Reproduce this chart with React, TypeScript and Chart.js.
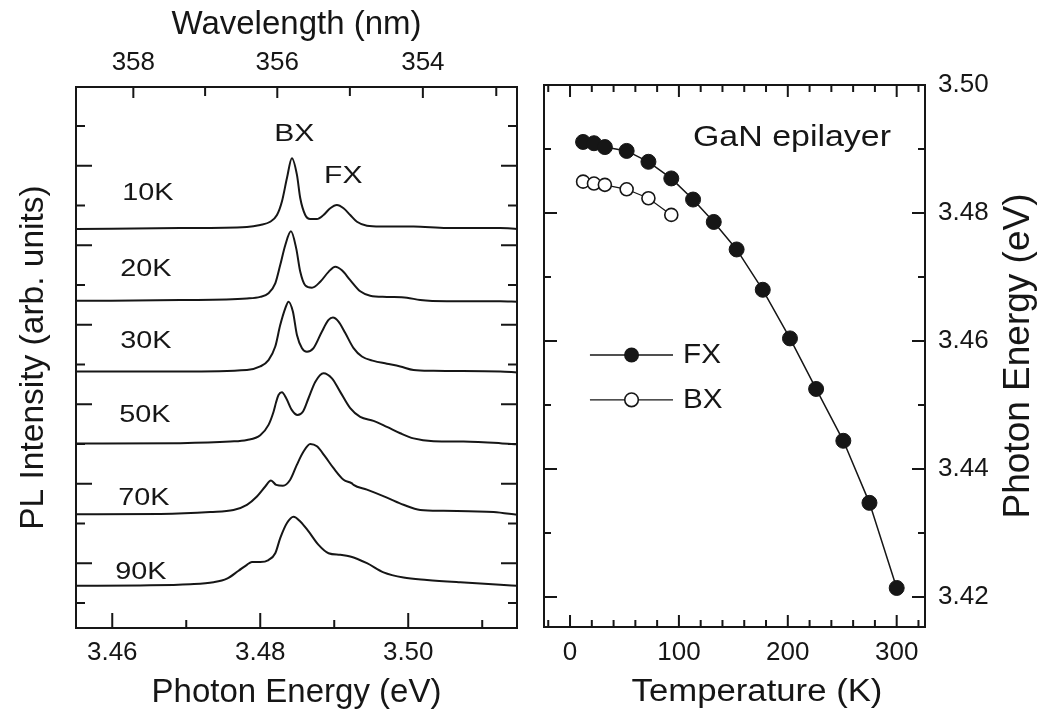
import React, { useEffect, useRef } from "react";
import { Chart, registerables } from "chart.js";

Chart.register(...registerables);

const FONT = '"Liberation Sans", Arial, Helvetica, sans-serif';
const INK = "#161616";
Chart.defaults.font.family = FONT;
Chart.defaults.color = INK;

// ---------------- Left panel: temperature-dependent PL spectra ----------------
const SPECTRUM_LABELS = ["10K", "20K", "30K", "50K", "70K", "90K"];
// vertical offset of each trace (arb. units)
const SPECTRUM_OFFSETS = [9.41, 7.6, 5.82, 4.01, 2.23, 0.43];

const E_10K = [3.4551, 3.4692, 3.4782, 3.48, 3.48135, 3.48226, 3.48293, 3.48361, 3.48428, 3.48496, 3.48541, 3.48608, 3.48676, 3.48766, 3.48855, 3.48946, 3.49036, 3.49126, 3.49216, 3.49307, 3.49442, 3.49622, 3.50072, 3.50523, 3.51243, 3.5147];
const I_10K = [0.0, 0.02, 0.05, 0.1, 0.18, 0.35, 0.69, 1.28, 1.78, 1.36, 0.77, 0.35, 0.25, 0.25, 0.35, 0.52, 0.6, 0.52, 0.35, 0.18, 0.08, 0.06, 0.06, 0.02, 0.02, 0.0];

const E_20K = [3.4551, 3.4692, 3.4782, 3.48, 3.48112, 3.48203, 3.4827, 3.48338, 3.48415, 3.48486, 3.48541, 3.48608, 3.48699, 3.48811, 3.48923, 3.49014, 3.49104, 3.49216, 3.49351, 3.49486, 3.49712, 3.49982, 3.50162, 3.50523, 3.51243, 3.5147];
const I_20K = [0.0, 0.02, 0.06, 0.1, 0.19, 0.44, 0.9, 1.4, 1.75, 1.32, 0.73, 0.39, 0.33, 0.48, 0.73, 0.86, 0.77, 0.52, 0.24, 0.13, 0.1, 0.08, 0.02, -0.01, -0.01, -0.02];

const E_30K = [3.4551, 3.4692, 3.4782, 3.48, 3.48112, 3.48203, 3.4827, 3.48338, 3.48382, 3.48441, 3.48496, 3.48564, 3.48631, 3.4872, 3.48834, 3.48923, 3.48982, 3.49058, 3.49149, 3.49261, 3.49374, 3.49531, 3.49712, 3.49892, 3.50072, 3.50342, 3.51243, 3.5147];
const I_30K = [0.0, 0.0, 0.04, 0.13, 0.29, 0.63, 1.17, 1.59, 1.76, 1.51, 0.92, 0.59, 0.5, 0.59, 1.01, 1.3, 1.36, 1.26, 0.97, 0.59, 0.38, 0.27, 0.2, 0.13, 0.04, 0.02, 0.0, -0.02];

const E_50K = [3.4551, 3.4692, 3.47595, 3.4782, 3.48, 3.48112, 3.4818, 3.48216, 3.48247, 3.48293, 3.48351, 3.48428, 3.48503, 3.48576, 3.48652, 3.48743, 3.48855, 3.48969, 3.49081, 3.49216, 3.49351, 3.49531, 3.49712, 3.49892, 3.50072, 3.50342, 3.50747, 3.51243, 3.5147];
const I_50K = [0.0, 0.01, 0.05, 0.09, 0.21, 0.47, 0.8, 1.05, 1.22, 1.29, 1.14, 0.84, 0.72, 0.8, 1.14, 1.55, 1.77, 1.64, 1.3, 0.89, 0.67, 0.57, 0.42, 0.26, 0.13, 0.06, 0.05, 0.01, -0.02];

const E_70K = [3.4551, 3.46649, 3.47324, 3.47639, 3.4782, 3.47955, 3.48068, 3.48145, 3.48216, 3.48307, 3.48405, 3.48496, 3.48585, 3.48676, 3.48766, 3.48878, 3.48991, 3.49126, 3.49239, 3.49261, 3.49442, 3.49712, 3.49936, 3.50162, 3.50477, 3.51153, 3.5147];
const I_70K = [0.0, 0.01, 0.06, 0.11, 0.24, 0.45, 0.7, 0.85, 0.74, 0.72, 0.87, 1.25, 1.58, 1.77, 1.71, 1.45, 1.16, 0.87, 0.78, 0.74, 0.62, 0.42, 0.24, 0.11, 0.09, 0.06, -0.01];

const E_90K = [3.4551, 3.46378, 3.47054, 3.47369, 3.4755, 3.47707, 3.4782, 3.47888, 3.48, 3.48112, 3.48203, 3.4827, 3.48361, 3.4845, 3.48541, 3.48653, 3.48788, 3.48923, 3.49081, 3.49216, 3.49442, 3.49666, 3.49936, 3.50253, 3.50703, 3.51243, 3.5147];
const I_90K = [0.0, 0.01, 0.04, 0.09, 0.18, 0.38, 0.53, 0.6, 0.6, 0.65, 0.82, 1.2, 1.58, 1.74, 1.62, 1.37, 1.03, 0.82, 0.78, 0.74, 0.57, 0.34, 0.21, 0.15, 0.09, 0.03, 0.0];

const ENERGY_MIN = 3.4551;
const ENERGY_MAX = 3.5147;
const ENERGY_TICKS = [3.46, 3.47, 3.48, 3.49, 3.5, 3.51];
const ENERGY_LABELED = [3.46, 3.48, 3.5];
const HC_EV_NM = 1239.7;
const WAVELENGTH_TICKS = [358, 357, 356, 355, 354, 353];
const WAVELENGTH_LABELED = [358, 356, 354];
const INTENSITY_MIN = -0.63;
const INTENSITY_MAX = 12.98;
const INTENSITY_TICKS = [0, 1, 2, 3, 4, 5, 6, 7, 8, 9, 10, 11, 12];

// label anchors (energy, arb. units)
const SPECTRUM_LABEL_E = [3.46135, 3.46108, 3.46108, 3.46095, 3.46081, 3.46041];
const SPECTRUM_LABEL_Y = [10.31, 8.38, 6.57, 4.73, 2.62, 0.78];
const PEAK_NAMES = ["BX", "FX"];
const PEAK_LABEL_E = [3.48459, 3.49122];
const PEAK_LABEL_Y = [11.8, 10.72];

// ---------------- Right panel: peak energy vs temperature ----------------
const TEMP_FX = [12, 22, 32, 52, 72, 93, 113, 132, 153, 177, 202, 226, 251, 275, 300];
const ENERGY_FX = [3.4911, 3.4909, 3.4903, 3.4897, 3.488, 3.4854, 3.4821, 3.4786, 3.4743, 3.468, 3.4604, 3.4525, 3.4444, 3.4347, 3.4214];
const TEMP_BX = [12, 22, 32, 52, 72, 93];
const ENERGY_BX = [3.4849, 3.4846, 3.4844, 3.4837, 3.4823, 3.4797];

const TEMP_MIN = -23.9;
const TEMP_MAX = 326;
const TEMP_TICKS = [-20, 0, 20, 40, 60, 80, 100, 120, 140, 160, 180, 200, 220, 240, 260, 280, 300, 320];
const TEMP_LABELED = [0, 100, 200, 300];
const PEAK_E_MIN = 3.4153;
const PEAK_E_MAX = 3.5;
const PEAK_E_TICKS = [3.42, 3.43, 3.44, 3.45, 3.46, 3.47, 3.48, 3.49, 3.5];
const PEAK_E_LABELED = [3.42, 3.44, 3.46, 3.48, 3.5];

const SAMPLE_NAME = "GaN epilayer";
const SAMPLE_ANCHOR = { t: 112.9, e: 3.4917 };
const LEGEND_NAMES = ["FX", "BX"];
const LEGEND_E = [3.4578, 3.4508];
const LEGEND_T = { lineStart: 18.3, marker: 56.5, lineEnd: 94.6, text: 103.8 };

const near = (list: number[], v: number) => list.some((l) => Math.abs(l - v) < 1e-6);

// text in a slightly widened sans face
function drawWideText(
  ctx: CanvasRenderingContext2D,
  text: string,
  x: number,
  y: number,
  size: number,
  align: "left" | "center",
  stretch: number
) {
  ctx.save();
  ctx.font = `${size}px ${FONT}`;
  ctx.textAlign = "left";
  ctx.textBaseline = "middle";
  ctx.fillStyle = INK;
  const w = ctx.measureText(text).width * stretch;
  const x0 = align === "center" ? x - w / 2 : x;
  ctx.translate(x0, y);
  ctx.scale(stretch, 1);
  ctx.fillText(text, 0, 0);
  ctx.restore();
}

type Side = "top" | "bottom" | "left" | "right";
interface TickSpec {
  scaleId: string;
  side: Side;
  isMajor: (v: number) => boolean;
  majorLen: number;
  minorLen: number;
}

// frame around the plot area plus inward-pointing tick marks
function framePlugin(specs: TickSpec[]) {
  return {
    id: "frameTicks",
    afterDatasetsDraw(chart: any) {
      const { ctx, chartArea: a } = chart;
      ctx.save();
      ctx.strokeStyle = INK;
      ctx.lineWidth = 2;
      ctx.beginPath();
      for (const s of specs) {
        const scale = chart.scales[s.scaleId];
        for (const t of scale.ticks) {
          const p = scale.getPixelForValue(t.value);
          const len = s.isMajor(t.value) ? s.majorLen : s.minorLen;
          if (s.side === "bottom" || s.side === "top") {
            if (p < a.left + 1 || p > a.right - 1) continue;
            const y0 = s.side === "bottom" ? a.bottom : a.top;
            const dir = s.side === "bottom" ? -1 : 1;
            ctx.moveTo(p, y0);
            ctx.lineTo(p, y0 + dir * len);
          } else {
            if (p < a.top + 1 || p > a.bottom - 1) continue;
            const x0 = s.side === "left" ? a.left : a.right;
            const dir = s.side === "left" ? 1 : -1;
            ctx.moveTo(x0, p);
            ctx.lineTo(x0 + dir * len, p);
          }
        }
      }
      ctx.stroke();
      ctx.strokeRect(a.left, a.top, a.right - a.left, a.bottom - a.top);
      ctx.restore();
    },
  };
}

const hiddenGrid = { display: false, drawTicks: false };
const TICK_FONT = { size: 26 };
const TITLE_FONT = { size: 33 };

function spectraConfig(): any {
  const energies = [E_10K, E_20K, E_30K, E_50K, E_70K, E_90K];
  const intensities = [I_10K, I_20K, I_30K, I_50K, I_70K, I_90K];
  const datasets = SPECTRUM_LABELS.map((label, k) => ({
    label,
    data: energies[k].map((e, i) => ({ x: e, y: SPECTRUM_OFFSETS[k] + intensities[k][i] })),
    borderColor: INK,
    borderWidth: 2,
    pointRadius: 0,
    fill: false,
    cubicInterpolationMode: "monotone",
  }));

  const textPlugin = {
    id: "spectraText",
    afterDatasetsDraw(chart: any) {
      const { ctx } = chart;
      const xs = chart.scales.x;
      const ys = chart.scales.y;
      SPECTRUM_LABELS.forEach((lab, i) => {
        drawWideText(
          ctx,
          lab,
          xs.getPixelForValue(SPECTRUM_LABEL_E[i]),
          ys.getPixelForValue(SPECTRUM_LABEL_Y[i]),
          24,
          "left",
          1.2
        );
      });
      PEAK_NAMES.forEach((lab, i) => {
        drawWideText(
          ctx,
          lab,
          xs.getPixelForValue(PEAK_LABEL_E[i]),
          ys.getPixelForValue(PEAK_LABEL_Y[i]),
          24,
          "center",
          1.25
        );
      });
    },
  };

  return {
    type: "line",
    data: { datasets },
    options: {
      responsive: false,
      animation: false,
      devicePixelRatio: 1,
      layout: { padding: { right: 13 } },
      plugins: { legend: { display: false }, tooltip: { enabled: false } },
      scales: {
        x: {
          type: "linear",
          position: "bottom",
          min: ENERGY_MIN,
          max: ENERGY_MAX,
          afterBuildTicks: (sc: any) => {
            sc.ticks = ENERGY_TICKS.map((v) => ({ value: v }));
          },
          afterFit: (sc: any) => {
            sc.height = 86;
          },
          grid: hiddenGrid,
          border: { display: false },
          ticks: {
            autoSkip: false,
            maxRotation: 0,
            padding: 9,
            color: INK,
            font: TICK_FONT,
            callback: (v: number) => (near(ENERGY_LABELED, v) ? v.toFixed(2) : ""),
          },
          title: {
            display: true,
            text: "Photon Energy (eV)",
            color: INK,
            font: TITLE_FONT,
            padding: { top: 0, bottom: 1 },
          },
        },
        xTop: {
          type: "linear",
          position: "top",
          min: ENERGY_MIN,
          max: ENERGY_MAX,
          afterBuildTicks: (sc: any) => {
            sc.ticks = WAVELENGTH_TICKS.map((nm) => ({ value: HC_EV_NM / nm }));
          },
          afterFit: (sc: any) => {
            sc.height = 87;
          },
          grid: hiddenGrid,
          border: { display: false },
          ticks: {
            autoSkip: false,
            maxRotation: 0,
            padding: 9,
            color: INK,
            font: TICK_FONT,
            callback: (v: number) => {
              const nm = Math.round(HC_EV_NM / v);
              return WAVELENGTH_LABELED.includes(nm) ? String(nm) : "";
            },
          },
          title: {
            display: true,
            text: "Wavelength (nm)",
            color: INK,
            font: TITLE_FONT,
            padding: { top: 5, bottom: 0 },
          },
        },
        y: {
          type: "linear",
          position: "left",
          min: INTENSITY_MIN,
          max: INTENSITY_MAX,
          afterBuildTicks: (sc: any) => {
            sc.ticks = INTENSITY_TICKS.map((v) => ({ value: v }));
          },
          afterFit: (sc: any) => {
            sc.width = 76;
          },
          grid: hiddenGrid,
          border: { display: false },
          ticks: { display: false },
          title: {
            display: true,
            text: "PL Intensity (arb. units)",
            color: INK,
            font: { size: 33.5 },
            padding: { top: 14, bottom: 0 },
          },
        },
      },
    },
    plugins: [
      framePlugin([
        { scaleId: "x", side: "bottom", isMajor: (v) => near(ENERGY_LABELED, v), majorLen: 15, minorLen: 8 },
        {
          scaleId: "xTop",
          side: "top",
          isMajor: (v) => WAVELENGTH_LABELED.includes(Math.round(HC_EV_NM / v)),
          majorLen: 11,
          minorLen: 9,
        },
        { scaleId: "y", side: "left", isMajor: (v) => Math.round(v) % 2 === 1, majorLen: 16, minorLen: 9 },
        { scaleId: "y", side: "right", isMajor: (v) => Math.round(v) % 2 === 1, majorLen: 16, minorLen: 9 },
      ]),
      textPlugin,
    ],
  };
}

function temperatureConfig(): any {
  const fx = TEMP_FX.map((t, i) => ({ x: t, y: ENERGY_FX[i] }));
  const bx = TEMP_BX.map((t, i) => ({ x: t, y: ENERGY_BX[i] }));

  const textPlugin = {
    id: "peakText",
    afterDatasetsDraw(chart: any) {
      const { ctx } = chart;
      const xs = chart.scales.x;
      const ys = chart.scales.y;

      drawWideText(
        ctx,
        SAMPLE_NAME,
        xs.getPixelForValue(SAMPLE_ANCHOR.t),
        ys.getPixelForValue(SAMPLE_ANCHOR.e),
        29,
        "left",
        1.17
      );

      // legend entries
      LEGEND_NAMES.forEach((name, i) => {
        const y = ys.getPixelForValue(LEGEND_E[i]);
        ctx.save();
        ctx.strokeStyle = INK;
        ctx.lineWidth = 1.4;
        ctx.beginPath();
        ctx.moveTo(xs.getPixelForValue(LEGEND_T.lineStart), y);
        ctx.lineTo(xs.getPixelForValue(LEGEND_T.lineEnd), y);
        ctx.stroke();
        ctx.beginPath();
        const mx = xs.getPixelForValue(LEGEND_T.marker);
        if (name === "FX") {
          ctx.arc(mx, y, 7.5, 0, Math.PI * 2);
          ctx.fillStyle = INK;
          ctx.fill();
        } else {
          ctx.arc(mx, y, 6.8, 0, Math.PI * 2);
          ctx.fillStyle = "#fff";
          ctx.fill();
          ctx.lineWidth = 1.6;
          ctx.stroke();
        }
        ctx.restore();
        drawWideText(ctx, name, xs.getPixelForValue(LEGEND_T.text), y + 1, 27, "left", 1.1);
      });

      // axis titles
      drawWideText(ctx, "Temperature (K)", 757 - 530, 692, 31, "center", 1.12);
      ctx.save();
      ctx.fillStyle = INK;
      ctx.font = `37px ${FONT}`;
      ctx.textAlign = "center";
      ctx.textBaseline = "middle";
      ctx.translate(489, 356);
      ctx.rotate(-Math.PI / 2);
      ctx.fillText("Photon Energy (eV)", 0, 0);
      ctx.restore();
    },
  };

  return {
    type: "line",
    data: {
      datasets: [
        {
          label: "FX",
          data: fx,
          borderColor: INK,
          borderWidth: 1.5,
          pointRadius: 7.5,
          pointBackgroundColor: INK,
          pointBorderColor: INK,
          pointBorderWidth: 1,
          fill: false,
          tension: 0,
        },
        {
          label: "BX",
          data: bx,
          borderColor: INK,
          borderWidth: 1.2,
          pointRadius: 6.5,
          pointBackgroundColor: "#ffffff",
          pointBorderColor: INK,
          pointBorderWidth: 1.6,
          fill: false,
          tension: 0,
        },
      ],
    },
    options: {
      responsive: false,
      animation: false,
      devicePixelRatio: 1,
      layout: { padding: { left: 14, top: 85 } },
      plugins: { legend: { display: false }, tooltip: { enabled: false } },
      scales: {
        x: {
          type: "linear",
          position: "bottom",
          min: TEMP_MIN,
          max: TEMP_MAX,
          afterBuildTicks: (sc: any) => {
            sc.ticks = TEMP_TICKS.map((v) => ({ value: v }));
          },
          afterFit: (sc: any) => {
            sc.height = 87;
          },
          grid: hiddenGrid,
          border: { display: false },
          ticks: {
            autoSkip: false,
            maxRotation: 0,
            padding: 10,
            color: INK,
            font: TICK_FONT,
            callback: (v: number) => (near(TEMP_LABELED, v) ? String(v) : ""),
          },
        },
        y: {
          type: "linear",
          position: "right",
          min: PEAK_E_MIN,
          max: PEAK_E_MAX,
          afterBuildTicks: (sc: any) => {
            sc.ticks = PEAK_E_TICKS.map((v) => ({ value: v }));
          },
          afterFit: (sc: any) => {
            sc.width = 125;
          },
          grid: hiddenGrid,
          border: { display: false },
          ticks: {
            autoSkip: false,
            padding: 13,
            color: INK,
            font: TICK_FONT,
            callback: (v: number) => (near(PEAK_E_LABELED, v) ? v.toFixed(2) : ""),
          },
        },
      },
    },
    plugins: [
      framePlugin([
        { scaleId: "x", side: "bottom", isMajor: (v) => near(TEMP_LABELED, v), majorLen: 12, minorLen: 7 },
        { scaleId: "x", side: "top", isMajor: (v) => near(TEMP_LABELED, v), majorLen: 12, minorLen: 7 },
        { scaleId: "y", side: "right", isMajor: (v) => near(PEAK_E_LABELED, v), majorLen: 13, minorLen: 7 },
        { scaleId: "y", side: "left", isMajor: (v) => near(PEAK_E_LABELED, v), majorLen: 13, minorLen: 7 },
      ]),
      textPlugin,
    ],
  };
}

function PanelCanvas({ left, width, makeConfig }: { left: number; width: number; makeConfig: () => any }) {
  const ref = useRef<HTMLCanvasElement>(null);
  useEffect(() => {
    if (!ref.current) return;
    const chart = new Chart(ref.current, makeConfig());
    return () => chart.destroy();
  }, [makeConfig]);
  return (
    <canvas
      ref={ref}
      width={width}
      height={714}
      style={{ position: "absolute", left, top: 0, width, height: 714 }}
    />
  );
}

export default function App() {
  return (
    <div
      style={{
        position: "absolute",
        left: 0,
        top: 0,
        width: 1050,
        height: 714,
        background: "#ffffff",
        overflow: "hidden",
      }}
    >
      <PanelCanvas left={0} width={530} makeConfig={spectraConfig} />
      <PanelCanvas left={530} width={520} makeConfig={temperatureConfig} />
    </div>
  );
}
